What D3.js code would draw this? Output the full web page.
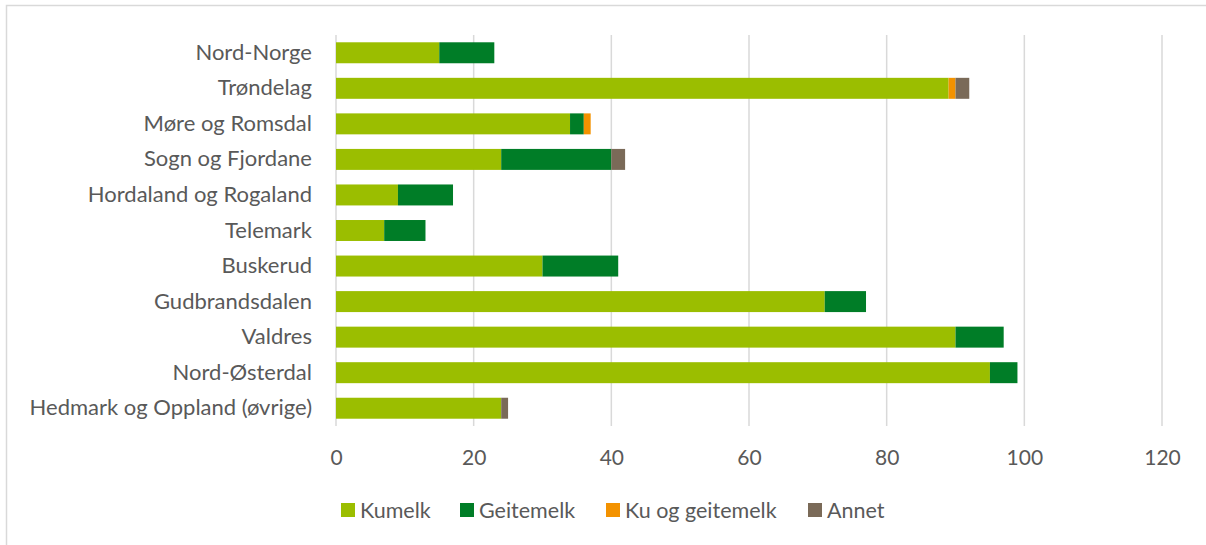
<!DOCTYPE html>
<html>
<head>
<meta charset="utf-8">
<script src="https://cdn.jsdelivr.net/npm/d3@7"></script>
<style>
  body { margin: 0; background: #fff; }
  text { font-family: Lato, "Open Sans", sans-serif; fill: #595959; }
</style>
</head>
<body>
<script>
// regions, top to bottom
var regions = ["Nord-Norge", "Trøndelag", "Møre og Romsdal", "Sogn og Fjordane",
  "Hordaland og Rogaland", "Telemark", "Buskerud", "Gudbrandsdalen", "Valdres",
  "Nord-Østerdal", "Hedmark og Oppland (øvrige)"];

var kumelk    = [15, 89, 34, 24, 9, 7, 30, 71, 90, 95, 24];
var geitemelk = [8, 0, 2, 16, 8, 6, 11, 6, 7, 4, 0];
var kuOgGeit  = [0, 1, 1, 0, 0, 0, 0, 0, 0, 0, 0];
var annet     = [0, 2, 0, 2, 0, 0, 0, 0, 0, 0, 1];

var seriesNames = ["Kumelk", "Geitemelk", "Ku og geitemelk", "Annet"];
var colors = ["#9bbe00", "#007d27", "#f39200", "#7a6a58"];
var xTicks = [0, 20, 40, 60, 80, 100, 120];

var svg_width = 1206;
var svg_height = 545;
var margin = {top: 35, right: 45, bottom: 120, left: 336};

var svg = d3.select("body").append("svg")
  .attr("width", svg_width)
  .attr("height", svg_height);

// chart frame
svg.append("rect")
  .attr("x", 6.5).attr("y", 5.5)
  .attr("width", 1220).attr("height", 560)
  .attr("fill", "none")
  .attr("stroke", "#d9d9d9")
  .attr("stroke-width", 1.5);

var rows = regions.map(function(r, i) {
  return {region: r, Kumelk: kumelk[i], Geitemelk: geitemelk[i],
    "Ku og geitemelk": kuOgGeit[i], Annet: annet[i]};
});

var x = d3.scaleLinear().domain([0, 120]).range([0, 826]);
var y = d3.scaleBand().domain(regions).range([0, 391]).paddingInner(0.41).paddingOuter(0.205);

var g = svg.append("g").attr("transform", `translate(${margin.left}, ${margin.top})`);

// gridlines
g.selectAll(".grid")
  .data(xTicks)
  .enter().append("line")
  .attr("x1", d => x(d)).attr("x2", d => x(d))
  .attr("y1", 0).attr("y2", 391)
  .attr("stroke", "#d9d9d9")
  .attr("stroke-width", 1.5);

var stack = d3.stack().keys(seriesNames)(rows);

g.selectAll(".series")
  .data(stack)
  .enter().append("g")
  .attr("fill", (d, i) => colors[i])
  .selectAll("rect")
  .data(d => d)
  .enter().append("rect")
  .attr("x", d => x(d[0]))
  .attr("width", d => x(d[1]) - x(d[0]))
  .attr("y", d => y(d.data.region))
  .attr("height", y.bandwidth());

// category labels
var yAxis = g.append("g").call(d3.axisLeft(y).tickSize(0).tickPadding(24));
yAxis.select(".domain").remove();
yAxis.selectAll("text").style("font-size", "22px").attr("fill", "#595959");

// x tick labels
var xAxis = g.append("g").attr("transform", "translate(0, 391)")
  .call(d3.axisBottom(x).tickValues(xTicks).tickSize(0).tickPadding(24));
xAxis.select(".domain").remove();
xAxis.selectAll("text").style("font-size", "21px").attr("fill", "#595959");

// legend
var legendX = [341, 460, 606, 808];
var legend = svg.append("g").selectAll("g")
  .data(seriesNames)
  .enter().append("g")
  .attr("transform", (d, i) => `translate(${legendX[i]}, 503)`);
legend.append("rect")
  .attr("width", 14).attr("height", 14)
  .attr("fill", (d, i) => colors[i]);
legend.append("text")
  .attr("x", 19).attr("y", 7)
  .attr("dy", "0.35em")
  .style("font-size", "21.5px")
  .text(d => d);
</script>
</body>
</html>
